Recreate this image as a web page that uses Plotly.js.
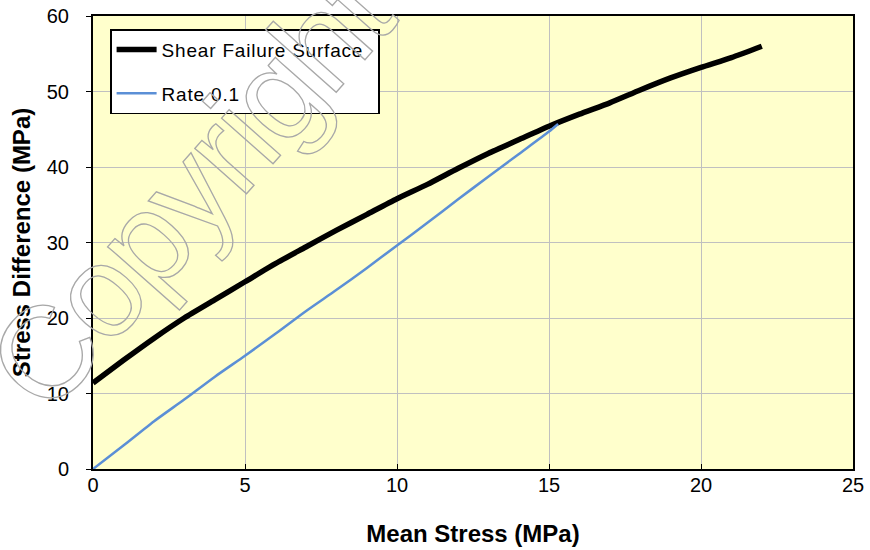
<!DOCTYPE html>
<html>
<head>
<meta charset="utf-8">
<script src="https://cdn.plot.ly/plotly-3.0.1.min.js"></script>
<style>
  html, body { margin: 0; padding: 0; background: #ffffff; }
  #chart { width: 870px; height: 550px; }
</style>
</head>
<body>
<div id="chart"></div>
<script>
// Shear failure surface: mean stress (MPa) vs stress difference (MPa)
const failureMean = [0, 1, 2, 3, 4, 5, 6, 7, 8, 9, 10, 11, 12, 13, 14, 15, 16, 17, 18, 19, 20, 21, 22];
const failureDiff = [11.4, 14.4, 17.3, 20.0, 22.4, 24.8, 27.2, 29.4, 31.6, 33.7, 35.8, 37.7, 39.8, 41.8, 43.6, 45.4, 47.0, 48.5, 50.2, 51.8, 53.2, 54.5, 56.0];

// Loading path at rate 0.1
const rateMean = [0, 1, 2, 3, 4, 5, 6, 7, 8, 9, 10, 11, 12, 13, 14, 15, 15.3];
const rateDiff = [0, 3.1, 6.3, 9.2, 12.2, 15.0, 17.9, 20.9, 23.7, 26.6, 29.6, 32.6, 35.7, 38.7, 41.7, 44.7, 45.7];

const seriesNames = ['Shear Failure Surface', 'Rate 0.1'];
const xTicks = [0, 5, 10, 15, 20, 25];
const yTicks = [0, 10, 20, 30, 40, 50, 60];

const traces = [
  {
    x: failureMean, y: failureDiff, name: seriesNames[0],
    type: 'scatter', mode: 'lines', legendgroup: 'a',
    line: { color: '#000000', width: 5.5, shape: 'spline', smoothing: 0.6 }
  },
  {
    x: rateMean, y: rateDiff, name: seriesNames[1],
    type: 'scatter', mode: 'lines', legendgroup: 'b',
    line: { color: '#5b8fd6', width: 2.5, shape: 'spline', smoothing: 0.6 }
  }
];

const FONT = 'Liberation Sans, Arial, sans-serif';
const axisFont = { family: FONT, size: 20, color: '#000' };
const titleFont = { family: FONT, size: 24, color: '#000', weight: 'bold' };

const layout = {
  width: 870, height: 550,
  margin: { l: 93, r: 17, t: 16, b: 81 },
  paper_bgcolor: '#ffffff',
  plot_bgcolor: '#ffffcc',
  showlegend: true,
  legend: {
    x: 0.0225, y: 0.971, xanchor: 'left', yanchor: 'top',
    bgcolor: '#ffffff', bordercolor: '#000000', borderwidth: 1.5,
    font: { family: FONT, size: 19, color: '#000' },
    traceorder: 'grouped', tracegroupgap: 16, itemwidth: 40
  },
  xaxis: {
    range: [0, 25], tickvals: xTicks, ticktext: xTicks.map(String),
    showgrid: true, gridcolor: '#c0c0c0', gridwidth: 1,
    zeroline: false, showline: true, linecolor: '#000', linewidth: 2, mirror: true,
    ticks: 'inside', ticklen: 5, tickcolor: '#000',
    ticklabelstandoff: -3,
    tickfont: axisFont,
    title: { text: 'Mean Stress (MPa)', standoff: 30, font: titleFont }
  },
  yaxis: {
    range: [0, 60], tickvals: yTicks, ticktext: yTicks.map(String),
    showgrid: true, gridcolor: '#c0c0c0', gridwidth: 1,
    zeroline: false, showline: true, linecolor: '#000', linewidth: 2, mirror: true,
    ticks: 'outside', ticklen: 5, tickcolor: '#000',
    ticklabelstandoff: 13,
    tickfont: axisFont,
    title: { text: 'Stress Difference (MPa)', standoff: 9, font: titleFont }
  },
  annotations: [
    {
      text: 'Copyright', xref: 'paper', yref: 'paper', x: 0.126, y: 0.614,
      xanchor: 'center', yanchor: 'middle',
      showarrow: false, textangle: -48.5,
      font: { family: FONT, size: 130, color: '#ffffff' }
    }
  ]
};

Plotly.newPlot('chart', traces, layout, { displayModeBar: false, staticPlot: true }).then(function (gd) {
  // outlined watermark lettering, laid over everything else
  const info = gd.querySelector('.infolayer');
  gd.querySelectorAll('.annotation').forEach(function (a) {
    if (info) info.appendChild(a);
  });
  gd.querySelectorAll('.annotation-text').forEach(function (t) {
    t.style.fill = 'none';
    t.style.stroke = '#a8a8a8';
    t.style.strokeWidth = '1.3px';
    t.style.letterSpacing = '-3px';
  });
  // looser legend lettering, with the frame widened to fit it
  gd.querySelectorAll('.legendtext').forEach(function (t) {
    t.style.letterSpacing = '0.8px';
  });
  const box = gd.querySelector('.legend .scrollbox');
  if (box) box.removeAttribute('clip-path');
  const bg = gd.querySelector('.legend rect.bg');
  if (bg) bg.setAttribute('width', 268);
});
</script>
</body>
</html>
